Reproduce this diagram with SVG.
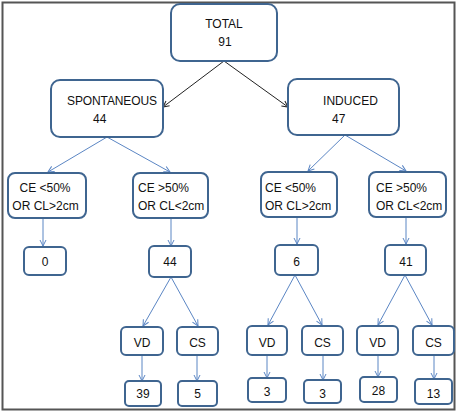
<svg xmlns="http://www.w3.org/2000/svg" width="459" height="418" viewBox="0 0 459 418">
<defs>
<marker id="ab" markerWidth="8" markerHeight="8" refX="7" refY="4" orient="auto" markerUnits="userSpaceOnUse"><path d="M1,1 L7,4 L1,7" fill="none" stroke="#222" stroke-width="1"/></marker>
<marker id="ao" markerWidth="8" markerHeight="8" refX="7" refY="4" orient="auto" markerUnits="userSpaceOnUse"><path d="M1,1 L7,4 L1,7" fill="none" stroke="#5b86c4" stroke-width="1"/></marker>
</defs>
<style>
.box{fill:#fff;stroke:#3f6590;stroke-width:2}
.t{font-family:"Liberation Sans",Arial,sans-serif;font-size:12px;fill:#111}
.c{text-anchor:middle}
.k{stroke:#222;stroke-width:1;fill:none;marker-end:url(#ab)}
.b{stroke:#5b86c4;stroke-width:1;fill:none;marker-end:url(#ao)}
</style>
<rect x="2.5" y="2.5" width="452" height="407" fill="#fff" stroke="#555" stroke-width="2"/>
<g id="connectors">
<line class="k" x1="224" y1="61" x2="163" y2="107"/>
<line class="k" x1="224" y1="61" x2="288" y2="107"/>
<line class="b" x1="107" y1="137" x2="48" y2="172"/>
<line class="b" x1="107" y1="137" x2="170" y2="172"/>
<line class="b" x1="345" y1="135" x2="308" y2="171"/>
<line class="b" x1="345" y1="135" x2="406" y2="171"/>
<line class="b" x1="43" y1="218" x2="43" y2="246"/>
<line class="b" x1="171" y1="218" x2="171" y2="246"/>
<line class="b" x1="297" y1="217" x2="297" y2="244"/>
<line class="b" x1="406" y1="217" x2="406" y2="244"/>
<line class="b" x1="171" y1="277" x2="143" y2="326"/>
<line class="b" x1="171" y1="277" x2="198" y2="326"/>
<line class="b" x1="295" y1="275" x2="268" y2="325"/>
<line class="b" x1="295" y1="275" x2="322" y2="325"/>
<line class="b" x1="405" y1="275" x2="378" y2="325"/>
<line class="b" x1="405" y1="275" x2="432" y2="325"/>
<line class="b" x1="142" y1="355" x2="142" y2="381"/>
<line class="b" x1="197" y1="355" x2="197" y2="381"/>
<line class="b" x1="267" y1="355" x2="267" y2="378"/>
<line class="b" x1="323" y1="355" x2="323" y2="380"/>
<line class="b" x1="378" y1="355" x2="378" y2="377"/>
<line class="b" x1="434" y1="355" x2="434" y2="379"/>
</g>
<g id="total"><rect class="box" x="171" y="4" width="106" height="57" rx="9"/><text class="t c" x="224" y="28">TOTAL</text><text class="t c" x="225" y="46">91</text></g>
<g id="spontaneous"><rect class="box" x="51" y="80" width="112" height="57" rx="9"/><text class="t" x="67" y="105" textLength="90">SPONTANEOUS</text><text class="t" x="93" y="123">44</text></g>
<g id="induced"><rect class="box" x="288" y="79" width="111" height="56" rx="9"/><text class="t" x="323" y="105" textLength="55">INDUCED</text><text class="t" x="332" y="123">47</text></g>
<g id="s-ce-lt"><rect class="box" x="8" y="173" width="78" height="45" rx="7"/><text class="t c" x="45" y="192">CE &lt;50%</text><text class="t c" x="45.5" y="210">OR CL&gt;2cm</text></g>
<g id="s-ce-gt"><rect class="box" x="133" y="173" width="75" height="45" rx="7"/><text class="t" x="138" y="192">CE &gt;50%</text><text class="t" x="138" y="210">OR CL&lt;2cm</text></g>
<g id="i-ce-lt"><rect class="box" x="261" y="172" width="76" height="45" rx="7"/><text class="t" x="265" y="192">CE &lt;50%</text><text class="t" x="265" y="210">OR CL&gt;2cm</text></g>
<g id="i-ce-gt"><rect class="box" x="369" y="172" width="77" height="45" rx="7"/><text class="t" x="376" y="192">CE &gt;50%</text><text class="t" x="376" y="210">OR CL&lt;2cm</text></g>
<g id="n0"><rect class="box" x="24" y="247" width="42" height="28" rx="5"/><text class="t c" x="45" y="266">0</text></g>
<g id="n44"><rect class="box" x="149" y="246" width="42" height="31" rx="5"/><text class="t c" x="170" y="266">44</text></g>
<g id="n6"><rect class="box" x="275" y="245" width="43" height="30" rx="5"/><text class="t c" x="296.5" y="266">6</text></g>
<g id="n41"><rect class="box" x="385" y="245" width="41" height="30" rx="5"/><text class="t c" x="406" y="266">41</text></g>
<g id="vd1"><rect class="box" x="121" y="327" width="42" height="28" rx="5"/><text class="t c" x="142" y="347">VD</text></g>
<g id="cs1"><rect class="box" x="177" y="327" width="41" height="28" rx="5"/><text class="t c" x="197.5" y="347">CS</text></g>
<g id="vd2"><rect class="box" x="247" y="326" width="40" height="29" rx="5"/><text class="t c" x="267" y="347">VD</text></g>
<g id="cs2"><rect class="box" x="302" y="326" width="41" height="29" rx="5"/><text class="t c" x="322.5" y="347">CS</text></g>
<g id="vd3"><rect class="box" x="357" y="326" width="41" height="29" rx="5"/><text class="t c" x="377.5" y="347">VD</text></g>
<g id="cs3"><rect class="box" x="413" y="326" width="41" height="29" rx="5"/><text class="t c" x="433.5" y="347">CS</text></g>
<g id="n39"><rect class="box" x="125" y="381" width="36" height="25" rx="4"/><text class="t c" x="143" y="398">39</text></g>
<g id="n5"><rect class="box" x="178" y="381" width="39" height="25" rx="4"/><text class="t c" x="197.5" y="398">5</text></g>
<g id="n3a"><rect class="box" x="248" y="378" width="38" height="24" rx="4"/><text class="t c" x="267" y="396">3</text></g>
<g id="n3b"><rect class="box" x="304" y="380" width="37" height="23" rx="4"/><text class="t c" x="322.5" y="398">3</text></g>
<g id="n28"><rect class="box" x="360" y="377" width="37" height="25" rx="4"/><text class="t c" x="378.5" y="395">28</text></g>
<g id="n13"><rect class="box" x="415" y="379" width="37" height="25" rx="4"/><text class="t c" x="433.5" y="398">13</text></g>
</svg>
